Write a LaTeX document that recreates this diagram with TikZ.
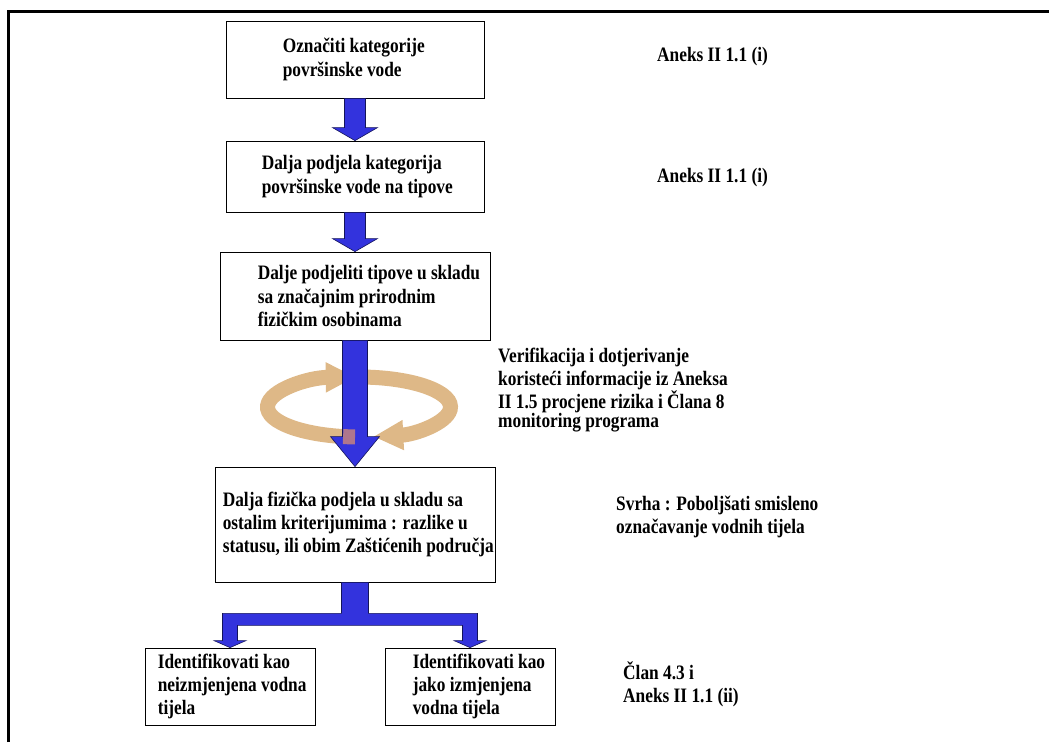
\documentclass[tikz,border=0pt]{standalone}
\usepackage{fontspec}
\setmainfont{Liberation Serif}[FakeStretch=0.845]
\usetikzlibrary{positioning,calc,arrows.meta}

\definecolor{arrowblue}{RGB}{51,51,221}
\definecolor{arrowedge}{RGB}{20,20,90}
\definecolor{ringtan}{RGB}{222,184,135}

\tikzset{
  stepbox/.style={draw, fill=white, line width=0.8pt, inner sep=0pt},
  steptext/.style={font=\bfseries\fontsize{20.5}{23.3}\selectfont, align=left, inner sep=0pt, anchor=west},
  blockarrow/.style={fill=arrowblue, draw=arrowedge, line width=0.6pt},
  ringarrow/.style={draw=ringtan, line width=15pt, -{Triangle[width=28pt,length=30pt]}}
}

% fat downward arrow: from, to, half shaft, half head, head length
\newcommand{\blockdown}[5]{%
  \filldraw[blockarrow] ($(#1)+(-#3,0)$) -- ($(#2)+(-#3,-#5)$) -- ($(#2)+(-#4,-#5)$) -- (#2)
    -- ($(#2)+(#4,-#5)$) -- ($(#2)+(#3,-#5)$) -- ($(#1)+(#3,0)$) -- cycle;}

\begin{document}
\begin{tikzpicture}[x=1pt,y=-1pt]
  \useasboundingbox (0,0) rectangle (1049,742);
  \draw[line width=3pt] (8.5,742) -- (8.5,11.5) -- (1049,11.5);

  % boxes
  \node[stepbox, minimum width=258, minimum height=77] (b1) at (355,59.5) {};
  \node[stepbox, minimum width=258, minimum height=71] (b2) at (355,176.5) {};
  \node[stepbox, minimum width=270, minimum height=88] (b3) at (355,296) {};
  \node[stepbox, minimum width=280, minimum height=115] (b4) at (355,524.5) {};
  \node[stepbox, minimum width=170, minimum height=77] (b5) at (230,686.5) {};
  \node[stepbox, minimum width=170, minimum height=77] (b6) at (470,686.5) {};

  \node[steptext, right=57pt of b1.west] (t1) {Označiti kategorije\\površinske vode};
  \node[steptext, right=36pt of b2.west] (t2) {Dalja podjela kategorija\\površinske vode na tipove};
  \node[steptext, right=38pt of b3.west] (t3) {Dalje podjeliti tipove u skladu\\sa značajnim prirodnim\\fizičkim osobinama};
  \node[steptext, right=8pt of b4.west] (t4) {Dalja fizička podjela u skladu sa\\ostalim kriterijumima : razlike u\\statusu, ili obim Zaštićenih područja};
  \node[steptext, right=13pt of b5.west] (t5) {Identifikovati kao\\neizmjenjena vodna\\tijela};
  \node[steptext, right=28pt of b6.west] (t6) {Identifikovati kao\\jako izmjenjena\\vodna tijela};

  % notes on the right
  \node[steptext] (ref1) at (657,57) {Aneks II 1.1 (i)};
  \node[steptext] (ref2) at (657,178) {Aneks II 1.1 (i)};
  \node[steptext] (verif) at (498,390) {Verifikacija i dotjerivanje\\koristeći informacije iz Aneksa\\II 1.5 procjene rizika i Člana 8\\[-4pt]monitoring programa};
  \node[steptext] (svrha) at (616,517) {Svrha : Poboljšati smisleno\\označavanje vodnih tijela};
  \node[steptext] (clan) at (623,684.5) {Član 4.3 i\\Aneks II 1.1 (ii)};

  % arrows
  \blockdown{b1.south}{b2.north}{10.5}{22.5}{13}
  \blockdown{b2.south}{b3.north}{10.5}{22.5}{13}

  \coordinate (ring) at (359,407);
  \draw[ringarrow] ($(ring)+(92.5:91.5 and 30)$) arc[start angle=92.5, end angle=268, x radius=91.5, y radius=30];
  \draw[ringarrow] ($(ring)+(275:91.5 and 30)$) arc[start angle=275, end angle=441, x radius=91.5, y radius=30];
  \blockdown{b3.south}{b4.north}{12.5}{24.5}{30}
  \draw[draw=ringtan!80!red, line width=15pt, opacity=0.7] ($(ring)+(92.5:91.5 and 30)$) arc[start angle=92.5, end angle=100, x radius=91.5, y radius=30];

  \coordinate (bartop) at ($(b4.south)+(0,31)$);
  \coordinate (barbot) at ($(b4.south)+(0,43)$);
  \filldraw[blockarrow] ($(b4.south)+(-13.5,0)$) -- ($(bartop)+(-13.5,0)$)
    -- ($(b5.north |- bartop)+(-7.5,0)$) -- ($(b5.north)+(-7.5,-7)$) -- ($(b5.north)+(-16,-7)$)
    -- (b5.north) -- ($(b5.north)+(16,-7)$) -- ($(b5.north)+(7.5,-7)$)
    -- ($(b5.north |- barbot)+(7.5,0)$) -- ($(b6.north |- barbot)+(-7.5,0)$)
    -- ($(b6.north)+(-7.5,-7)$) -- ($(b6.north)+(-16,-7)$) -- (b6.north)
    -- ($(b6.north)+(16,-7)$) -- ($(b6.north)+(7.5,-7)$) -- ($(b6.north |- bartop)+(7.5,0)$)
    -- ($(bartop)+(13.5,0)$) -- ($(b4.south)+(13.5,0)$) -- cycle;
\end{tikzpicture}
\end{document}
